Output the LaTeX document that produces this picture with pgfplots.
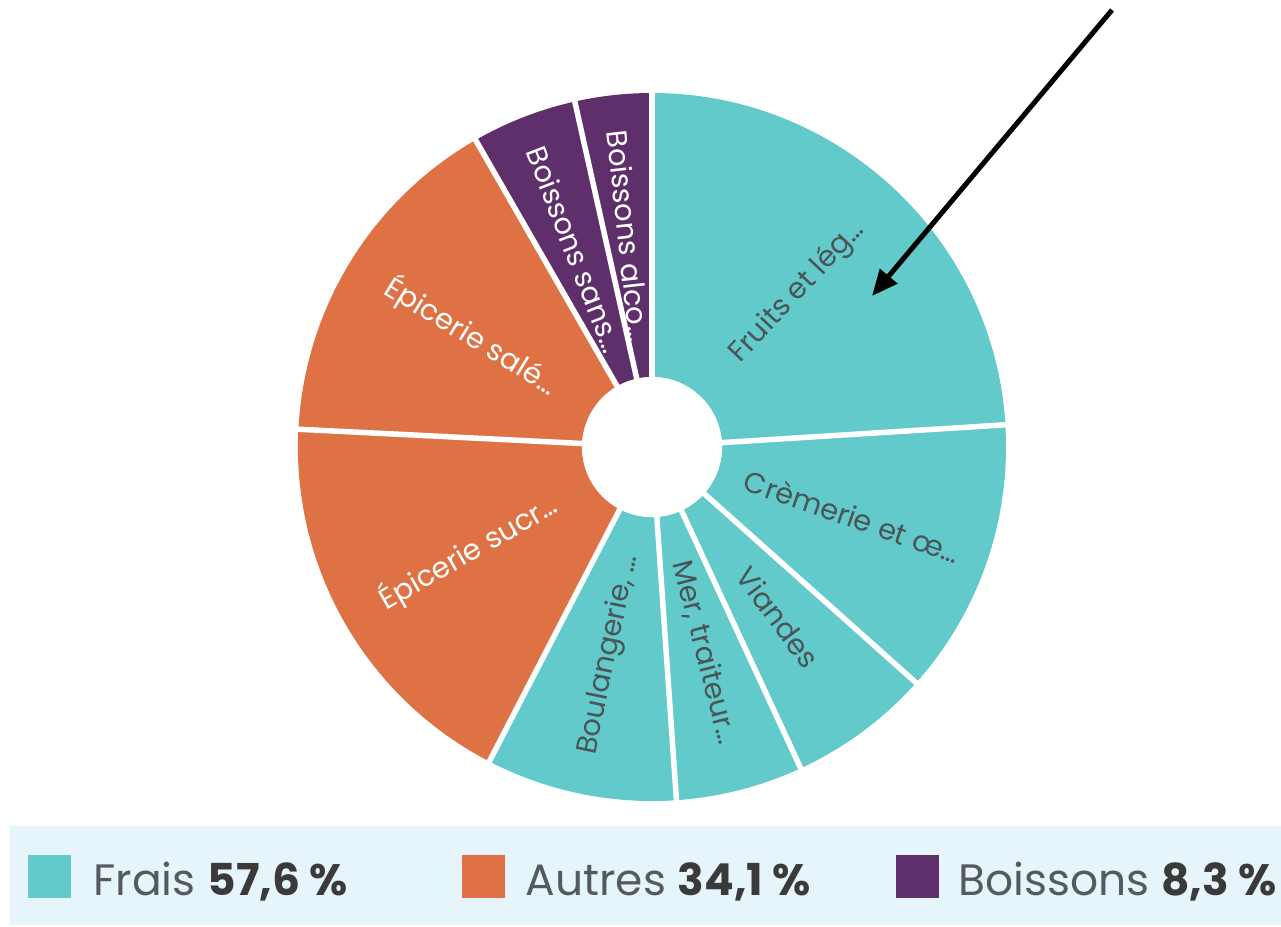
\documentclass[border=0pt]{standalone}
\usepackage{pgfplots}
\pgfplotsset{compat=1.18}
\usepackage{pgfplotstable}
\usepackage{fontspec}
\setmainfont{Poppins}
\usetikzlibrary{arrows.meta}

\definecolor{c0}{HTML}{62CACB}
\definecolor{c1}{HTML}{DE7245}
\definecolor{c2}{HTML}{5E2F6B}
\definecolor{t0}{HTML}{4A5656}
\colorlet{t1}{white}
\colorlet{t2}{white}
\definecolor{legbg}{HTML}{E6F4FB}
\definecolor{legtxt}{HTML}{555A5E}
\definecolor{legnum}{HTML}{3A3A3A}

% share of each slice (%), group (0 Frais, 1 Autres, 2 Boissons), label
\pgfplotstableread[col sep=semicolon]{
pct;grp;label
24.0;0;Fruits et lég…
12.6;0;Crèmerie et œ…
6.5;0;Viandes
5.8;0;Mer, traiteur…
8.7;0;Boulangerie, …
18.2;1;Épicerie sucr…
15.9;1;Épicerie salé…
4.8;2;Boissons sans…
3.5;2;Boissons alco…
}\slices

\def\cx{652}\def\cy{479}
\def\rin{70}\def\rout{354}\def\rlab{212}

\begin{document}
\begin{tikzpicture}
\begin{axis}[
  x=0.01cm, y=0.01cm,
  xmin=0, xmax=1281, ymin=0, ymax=926,
  hide axis, clip=false,
]
% full canvas
\path (axis cs:0,0) rectangle (axis cs:1281,926);
% legend band
\fill[legbg] (axis cs:10,1) rectangle (axis cs:1281,100);
\fill[c0] (axis cs:28,28) rectangle (axis cs:71,71);
\fill[c1] (axis cs:462,28) rectangle (axis cs:505,71);
\fill[c2] (axis cs:896,28) rectangle (axis cs:939,71);
\node[anchor=base west, inner sep=0pt, font=\fontsize{12.5}{14}\selectfont, text=legtxt]
  at (axis cs:93,31) {Frais \textcolor{legnum}{\textbf{57,6 \%}}};
\node[anchor=base west, inner sep=0pt, font=\fontsize{12.5}{14}\selectfont, text=legtxt]
  at (axis cs:525,31) {Autres \textcolor{legnum}{\textbf{34,1 \%}}};
\node[anchor=base west, inner sep=0pt, font=\fontsize{12.5}{14}\selectfont, text=legtxt]
  at (axis cs:958,31) {Boissons \textcolor{legnum}{\textbf{8,3 \%}}};

% slices
\pgfplotstablegetrowsof{\slices}
\pgfmathtruncatemacro\nrows{\pgfplotsretval-1}
\def\acc{90}
\pgfplotsforeachungrouped \i in {0,...,\nrows}{%
  \pgfplotstablegetelem{\i}{pct}\of\slices \let\p\pgfplotsretval
  \pgfplotstablegetelem{\i}{grp}\of\slices \let\g\pgfplotsretval
  \pgfplotstablegetelem{\i}{label}\of\slices \let\lab\pgfplotsretval
  \pgfmathsetmacro\aa{\acc}%
  \pgfmathsetmacro\ab{\acc-3.6*\p}%
  \pgfmathsetmacro\am{(\aa+\ab)/2}%
  \pgfmathsetmacro\rot{\am<-90 ? \am+180 : \am}%
  \pgfmathsetmacro\xa{\cx+\rin*cos(\aa)}\pgfmathsetmacro\ya{\cy+\rin*sin(\aa)}%
  \pgfmathsetmacro\xb{\cx+\rout*cos(\aa)}\pgfmathsetmacro\yb{\cy+\rout*sin(\aa)}%
  \pgfmathsetmacro\xc{\cx+\rin*cos(\ab)}\pgfmathsetmacro\yc{\cy+\rin*sin(\ab)}%
  \pgfmathsetmacro\xl{\cx+\rlab*cos(\am)}\pgfmathsetmacro\yl{\cy+\rlab*sin(\am)}%
  \edef\cmd{%
    \noexpand\fill[c\g] (axis cs:\xa,\ya) -- (axis cs:\xb,\yb)
      arc[start angle=\aa, end angle=\ab, radius=3.54cm]
      -- (axis cs:\xc,\yc) arc[start angle=\ab, end angle=\aa, radius=0.70cm] -- cycle;
    \noexpand\node[rotate=\rot, text=t\g, inner sep=0pt,
      font=\noexpand\fontsize{8.2}{9}\noexpand\selectfont] at (axis cs:\xl,\yl) {\lab};
  }\cmd
  \xdef\acc{\ab}%
}
% white gaps between slices
\pgfplotsforeachungrouped \i in {0,...,\nrows}{%
  \ifnum\i=0 \def\acc{90}\fi
  \pgfplotstablegetelem{\i}{pct}\of\slices \let\p\pgfplotsretval
  \pgfmathsetmacro\xe{\cx+(\rout+8)*cos(\acc)}\pgfmathsetmacro\ye{\cy+(\rout+8)*sin(\acc)}%
  \edef\cmd{\noexpand\draw[white, line width=0.055cm] (axis cs:\cx,\cy) -- (axis cs:\xe,\ye);}\cmd
  \pgfmathsetmacro\acc{\acc-3.6*\p}%
  \xdef\acc{\acc}%
}
\fill[white] (axis cs:\cx,\cy) circle[radius=0.70cm];

% arrow
\draw[black, line width=0.05cm, -{Triangle[length=0.26cm, width=0.22cm]}]
  (axis cs:1112,916) -- (axis cs:872,630);
\end{axis}
\end{tikzpicture}
\end{document}
